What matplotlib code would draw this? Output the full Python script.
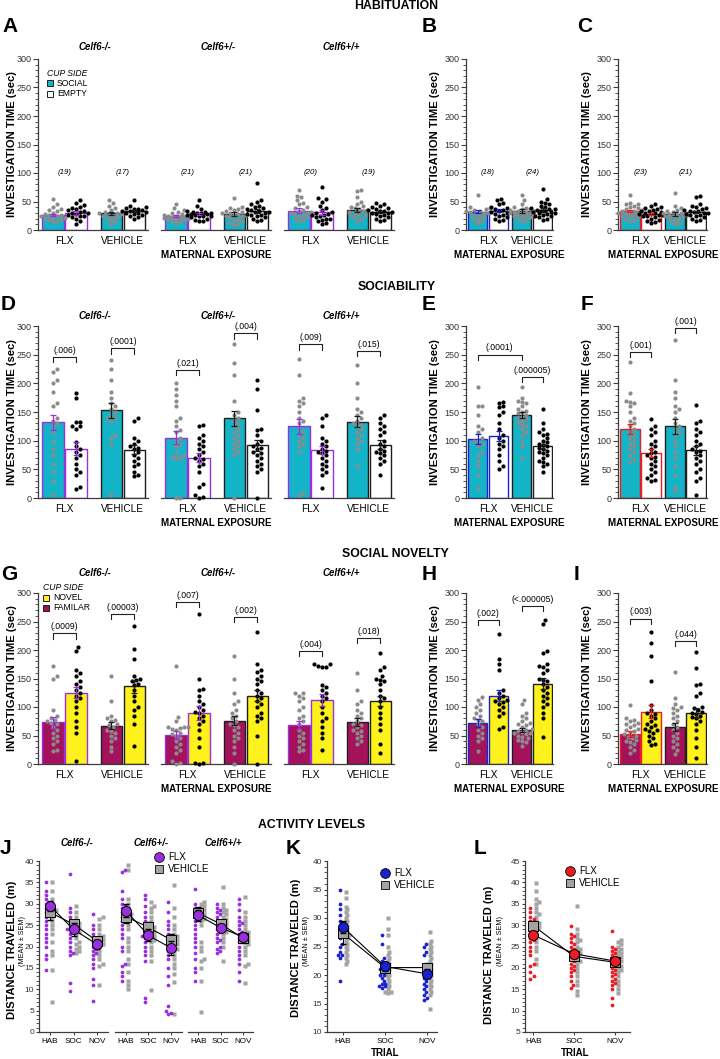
import numpy as np
import matplotlib
matplotlib.use("Agg")
import matplotlib.pyplot as plt
from matplotlib.patches import Rectangle
from matplotlib.ticker import MultipleLocator

plt.rcParams['font.family'] = ['Liberation Sans', 'DejaVu Sans']

W, H = 720, 1059

GENOTYPES = ['Celf6-/-', 'Celf6+/-', 'Celf6+/+']
EXPOSURE = ['FLX', 'VEHICLE']
TRIALS = ['HAB', 'SOC', 'NOV']

# ---------------- habituation (sec) ----------------
# order: -/- FLX, -/- VEH, +/- FLX, +/- VEH, +/+ FLX, +/+ VEH
A_N = [19, 17, 21, 21, 20, 19]
A_SOCIAL_MEAN = [26, 29, 25, 28, 34, 35]
A_SOCIAL_SEM = [2, 3, 2, 3, 4, 4]
A_EMPTY_MEAN = [30, 33, 28, 33, 31, 32]
A_EMPTY_SEM = [3, 2, 2, 3, 4, 2]
A_SOCIAL = [
    [55, 45, 40, 37, 35, 33, 30, 28, 27, 26, 25, 24, 22, 21, 20, 20, 18, 16, 14],
    [52, 48, 42, 38, 35, 32, 30, 29, 28, 27, 25, 24, 22, 20, 18, 15, 10],
    [45, 38, 35, 32, 30, 28, 27, 26, 25, 24, 23, 22, 22, 21, 20, 20, 19, 18, 16, 15, 12],
    [56, 40, 38, 36, 35, 33, 32, 30, 29, 28, 27, 26, 25, 24, 22, 20, 18, 15, 12, 10, 8],
    [70, 60, 58, 52, 48, 45, 40, 38, 35, 33, 32, 30, 30, 28, 26, 25, 22, 20, 18, 15],
    [70, 68, 58, 50, 45, 42, 40, 38, 36, 35, 33, 32, 30, 28, 26, 25, 22, 20, 15],
]
A_EMPTY = [
    [53, 47, 43, 40, 38, 36, 35, 33, 32, 30, 30, 28, 26, 25, 24, 22, 20, 15, 10],
    [53, 42, 40, 38, 37, 36, 35, 34, 33, 32, 30, 30, 28, 27, 25, 22, 20],
    [52, 42, 36, 34, 32, 31, 30, 30, 29, 28, 28, 27, 26, 25, 25, 24, 22, 20, 18, 16, 15],
    [83, 52, 50, 45, 42, 40, 38, 36, 35, 34, 32, 31, 30, 28, 27, 26, 25, 22, 20, 18, 15],
    [75, 56, 55, 50, 42, 38, 35, 32, 30, 28, 27, 26, 25, 22, 20, 20, 18, 15, 12, 10],
    [48, 45, 42, 40, 38, 36, 35, 34, 33, 32, 30, 30, 28, 26, 25, 22, 20, 18, 15],
]
B_N = [18, 24]
B_SOCIAL_MEAN = [32, 33]
B_SOCIAL_SEM = [3, 3]
B_EMPTY_MEAN = [34, 35]
B_EMPTY_SEM = [3, 3]
B_SOCIAL = [
    [62, 40, 38, 36, 35, 34, 33, 32, 30, 30, 28, 27, 25, 22, 20, 18, 15, 12],
    [62, 52, 45, 40, 38, 37, 36, 35, 34, 33, 32, 32, 30, 30, 29, 28, 27, 26, 25, 24, 22, 20, 18, 15],
]
B_EMPTY = [
    [55, 52, 48, 45, 40, 38, 36, 35, 33, 32, 30, 28, 26, 25, 22, 20, 18, 15],
    [72, 55, 50, 48, 45, 42, 40, 38, 37, 36, 35, 34, 33, 32, 32, 30, 30, 28, 27, 25, 24, 22, 20, 18],
]
C_N = [23, 21]
C_SOCIAL_MEAN = [33, 28]
C_SOCIAL_SEM = [2, 3]
C_EMPTY_MEAN = [28, 32]
C_EMPTY_SEM = [2, 2]
C_SOCIAL = [
    [62, 48, 46, 45, 42, 40, 38, 36, 35, 34, 33, 32, 30, 30, 28, 27, 26, 25, 24, 22, 20, 18, 15],
    [65, 42, 38, 35, 33, 32, 30, 30, 29, 28, 27, 26, 25, 25, 24, 22, 20, 18, 15, 12, 10],
]
C_EMPTY = [
    [45, 42, 40, 38, 36, 35, 34, 33, 32, 30, 30, 28, 28, 27, 26, 25, 24, 22, 20, 18, 16, 14, 12],
    [60, 58, 45, 42, 40, 38, 36, 35, 34, 33, 32, 30, 30, 28, 27, 26, 25, 22, 20, 18, 15],
]

# ---------------- sociability (sec) ----------------
D_SOCIAL_MEAN = [132, 153, 105, 139, 125, 133]
D_SOCIAL_SEM = [13, 13, 11, 13, 13, 10]
D_EMPTY_MEAN = [86, 84, 70, 92, 83, 93]
D_EMPTY_SEM = [11, 8, 8, 10, 7, 8]
D_P = ['(.006)', '(.0001)', '(.021)', '(.004)', '(.009)', '(.015)']
D_P_Y = [246, 261, 223, 287, 268, 256]
D_SOCIAL = [
    [225, 220, 205, 200, 185, 165, 160, 140, 135, 130, 125, 115, 100, 85, 75, 60, 45, 30, 5],
    [240, 225, 205, 185, 175, 165, 160, 155, 150, 145, 140, 140, 135, 110, 105, 95, 5],
    [200, 190, 180, 170, 160, 140, 135, 125, 118, 115, 105, 100, 95, 90, 80, 75, 72, 70, 70, 0, 0],
    [268, 235, 215, 170, 150, 145, 140, 135, 130, 125, 120, 115, 110, 105, 100, 95, 90, 85, 80, 75, 0],
    [242, 215, 175, 170, 165, 160, 150, 140, 135, 130, 120, 115, 110, 105, 100, 95, 90, 80, 5, 8],
    [232, 200, 175, 155, 150, 145, 140, 135, 130, 128, 125, 120, 115, 110, 105, 100, 95, 85, 55],
]
D_EMPTY = [
    [183, 175, 132, 132, 125, 125, 120, 98, 90, 85, 80, 75, 70, 60, 50, 45, 40, 20, 15],
    [140, 135, 105, 100, 95, 90, 88, 85, 80, 75, 70, 65, 60, 55, 45, 40, 38],
    [128, 125, 110, 105, 100, 95, 90, 85, 80, 75, 70, 68, 65, 60, 55, 45, 25, 20, 5, 2, 0],
    [205, 190, 153, 120, 118, 110, 100, 95, 90, 88, 85, 80, 78, 75, 70, 65, 60, 55, 50, 45, 0],
    [145, 140, 125, 105, 100, 95, 90, 85, 82, 80, 78, 75, 70, 65, 60, 55, 50, 45, 40, 18],
    [145, 140, 130, 125, 120, 115, 110, 100, 95, 90, 85, 82, 80, 78, 75, 70, 65, 60, 40],
]
E_SOCIAL_MEAN = [103, 145]
E_SOCIAL_SEM = [9, 5]
E_EMPTY_MEAN = [108, 90]
E_EMPTY_SEM = [8, 5]
E_P = ['(.0001)', '(.000005)']
E_P_Y = [250, 211]
E_P_BARS = [(0, 2), (2, 3)]
E_SOCIAL = [
    [193, 160, 160, 145, 125, 120, 115, 105, 100, 100, 95, 90, 80, 75, 65, 55, 40, 17],
    [193, 175, 170, 168, 165, 160, 155, 152, 150, 148, 145, 142, 140, 138, 135, 130, 128, 125, 120, 115, 110, 100, 90, 70],
]
E_EMPTY = [
    [168, 165, 160, 158, 150, 145, 130, 120, 110, 105, 100, 95, 90, 85, 75, 65, 55, 50],
    [155, 130, 120, 115, 112, 110, 105, 100, 98, 95, 92, 90, 88, 85, 82, 80, 78, 75, 70, 65, 62, 60, 55, 45],
]
F_SOCIAL_MEAN = [120, 125]
F_SOCIAL_SEM = [9, 13]
F_EMPTY_MEAN = [79, 83]
F_EMPTY_SEM = [7, 8]
F_P = ['(.001)', '(.001)']
F_P_Y = [255, 296]
F_P_BARS = [(0, 1), (2, 3)]
F_SOCIAL = [
    [237, 183, 170, 168, 165, 160, 150, 140, 135, 130, 125, 120, 115, 110, 105, 100, 95, 90, 85, 80, 75, 68, 62],
    [275, 205, 185, 175, 160, 155, 150, 140, 130, 125, 120, 115, 110, 100, 90, 80, 70, 55, 40, 20, 12],
]
F_EMPTY = [
    [138, 125, 120, 115, 110, 100, 95, 90, 85, 80, 78, 75, 72, 70, 65, 60, 55, 50, 45, 40, 35, 32, 30],
    [163, 135, 130, 120, 115, 110, 100, 95, 90, 85, 82, 80, 75, 70, 65, 60, 50, 45, 35, 30, 5],
]

# ---------------- social novelty (sec) ----------------
G_FAM_MEAN = [73, 67, 51, 76, 68, 73]
G_FAM_SEM = [9, 6, 7, 8, 7, 7]
G_NOVEL_MEAN = [125, 136, 90, 120, 112, 110]
G_NOVEL_SEM = [10, 11, 12, 10, 10, 9]
G_P = ['(.0009)', '(.00003)', '(.007)', '(.002)', '(.004)', '(.018)']
G_P_Y = [229, 263, 284, 258, 198, 221]
G_FAM = [
    [172, 155, 150, 95, 85, 80, 78, 75, 72, 70, 65, 60, 55, 50, 45, 40, 35, 25, 22],
    [155, 110, 85, 80, 78, 75, 70, 68, 65, 60, 58, 55, 50, 45, 40, 30, 22],
    [172, 82, 75, 65, 65, 65, 63, 62, 60, 55, 52, 50, 45, 40, 35, 30, 25, 20, 5, 2, 0],
    [190, 150, 125, 110, 105, 95, 90, 85, 80, 75, 70, 68, 65, 60, 55, 50, 45, 40, 30, 20, 0],
    [125, 125, 120, 115, 110, 100, 95, 85, 80, 75, 70, 60, 55, 50, 45, 40, 35, 30, 25, 22],
    [160, 130, 110, 105, 95, 90, 85, 80, 75, 70, 68, 65, 60, 58, 55, 50, 45, 40, 35],
]
G_NOVEL = [
    [205, 198, 165, 160, 155, 145, 140, 135, 130, 125, 120, 115, 110, 100, 90, 75, 65, 55, 5],
    [242, 202, 185, 155, 150, 148, 145, 140, 138, 130, 120, 110, 100, 95, 85, 70, 32],
    [263, 150, 132, 130, 120, 110, 105, 100, 95, 92, 90, 85, 80, 75, 70, 60, 45, 30, 2, 1, 0],
    [232, 175, 165, 162, 155, 150, 145, 140, 130, 125, 120, 115, 110, 105, 100, 90, 85, 80, 75, 50, 0],
    [175, 175, 172, 170, 170, 138, 135, 130, 125, 120, 115, 110, 100, 90, 80, 75, 65, 55, 45, 25],
    [195, 170, 165, 155, 150, 148, 145, 140, 130, 120, 115, 110, 100, 90, 80, 70, 60, 35, 20],
]
H_FAM_MEAN = [72, 60]
H_FAM_SEM = [7, 4]
H_NOVEL_MEAN = [120, 141]
H_NOVEL_SEM = [10, 10]
H_P = ['(.002)', '(<.000005)']
H_P_Y = [252, 277]
H_FAM = [
    [118, 112, 105, 100, 95, 90, 85, 80, 78, 75, 70, 65, 60, 55, 50, 45, 40, 22],
    [112, 105, 90, 85, 80, 75, 72, 70, 68, 65, 62, 60, 58, 57, 55, 55, 52, 50, 48, 45, 42, 40, 38, 32],
]
H_NOVEL = [
    [228, 185, 175, 165, 130, 125, 120, 115, 112, 110, 108, 105, 100, 95, 90, 85, 65, 62],
    [252, 245, 198, 195, 175, 172, 170, 165, 160, 150, 148, 145, 140, 135, 130, 125, 120, 115, 110, 105, 100, 90, 80, 48],
]
I_FAM_MEAN = [53, 65]
I_FAM_SEM = [5, 7]
I_NOVEL_MEAN = [92, 89]
I_NOVEL_SEM = [12, 9]
I_P = ['(.003)', '(.044)']
I_P_Y = [255, 216]
I_FAM = [
    [103, 80, 78, 75, 72, 70, 68, 65, 62, 60, 58, 55, 52, 50, 48, 45, 42, 40, 38, 35, 30, 25, 20],
    [162, 115, 105, 100, 98, 95, 90, 85, 80, 75, 70, 65, 60, 55, 50, 45, 40, 35, 30, 25, 18],
]
I_NOVEL = [
    [232, 212, 190, 145, 103, 95, 90, 88, 85, 80, 75, 70, 68, 65, 62, 60, 58, 55, 50, 45, 40, 35, 33],
    [197, 168, 140, 138, 125, 120, 100, 98, 95, 92, 90, 88, 85, 82, 80, 75, 70, 60, 45, 30, 10],
]

# ---------------- activity levels (m) ----------------
J_FLX_MEAN = [[29.5, 24.0, 20.5], [28.4, 22.6, 19.6], [27.3, 24.4, 22.3]]
J_VEH_MEAN = [[28.0, 25.2, 21.3], [27.0, 24.5, 21.5], [27.8, 25.3, 22.0]]
J_FLX_SEM = [[1.2, 1.5, 1.1], [1.5, 1.4, 1.6], [1.3, 0.8, 1.1]]
J_VEH_SEM = [[1.7, 0.9, 1.0], [1.6, 1.2, 1.4], [1.4, 0.9, 1.1]]
J_FLX = [
    [[35, 33, 32, 31, 30, 30, 29, 28, 27, 26, 25, 24, 23, 22, 21, 20, 18, 17, 14.5],
     [37, 29, 28, 27, 26, 25, 24.5, 24, 24, 23.5, 23, 22, 21, 20, 19, 18.5, 18, 11.5, 9.5],
     [27.5, 25, 24, 23, 22, 21.5, 21, 20.5, 20, 19.5, 19, 18.5, 18, 17, 16, 15, 12.5, 11, 7.3]],
    [[38, 37.5, 33, 31, 30, 29.5, 29, 28, 27, 26, 25, 24, 23, 22, 20, 19, 16, 15.5, 14, 13, 12],
     [32, 31, 29.5, 28, 27, 26, 25, 24.5, 24, 23, 23, 22.5, 22, 22, 21, 20, 19, 18, 16.5, 8, 7],
     [30.3, 28, 26, 25, 24, 23, 22, 21, 20.5, 20, 19.5, 19, 18, 17, 15, 13, 11, 6, 5, 4.5, 4.3]],
    [[33.5, 30, 29, 28.5, 28, 27.5, 27, 26.5, 26, 25, 24, 23, 22, 21, 20, 18.5, 17, 15, 14, 12],
     [30, 29, 28.5, 28, 27.5, 27, 26, 25.5, 25, 24.5, 24, 23.5, 23, 22, 21.5, 21, 20, 19.5, 19, 18.5],
     [31, 30, 28.5, 27, 26, 25.5, 25, 24, 23.5, 23, 22, 21.5, 21, 20, 19, 18, 17, 16, 14, 12]],
]
J_VEH = [
    [[35, 33, 31, 30, 29, 28.5, 28, 27, 26, 25, 24, 23, 21, 19, 18, 14.5, 7],
     [29.5, 28, 27, 26, 25.5, 25, 24.5, 24, 23.5, 23, 22, 21, 20.5, 20, 19.5, 19, 18.5],
     [27, 26.5, 25, 24, 23, 22.5, 22, 21.5, 21, 20.5, 20, 19, 18, 17, 16, 15.5, 11]],
    [[39, 38, 31, 30, 29, 28, 27.5, 27, 26, 25, 24, 22, 21, 20, 19, 17, 16, 14, 12, 11, 10],
     [30.5, 29.5, 29, 28, 27, 26, 25, 25, 24.5, 24, 23.5, 23, 22.5, 22, 21.5, 21, 20, 19, 18, 16.5, 9.8],
     [34.5, 29, 27, 25, 24, 23, 22.5, 22, 21.5, 21, 20.5, 20, 19.5, 19, 18, 17, 16, 15, 13.5, 11.7, 4.3]],
    [[30.5, 30, 29.5, 29, 28.5, 28, 27.5, 27, 26.5, 26, 25, 21, 20, 19, 17, 16.5, 15, 12, 4.7],
     [34, 30, 29, 28.5, 28, 27.5, 27, 26.5, 26, 25.5, 25, 24.5, 24, 23.5, 23, 22, 21, 20, 16.5],
     [31.5, 28, 27, 26, 25, 24, 23.5, 23, 22.5, 22, 21.5, 21, 20.5, 20, 19, 18, 16, 15.5, 11.5]],
]
K_FLX_MEAN = [28.4, 21.5, 20.2]
K_VEH_MEAN = [27.3, 21.3, 21.3]
K_FLX_SEM = [1.0, 0.8, 0.8]
K_VEH_SEM = [1.8, 0.7, 0.7]
K_FLX = [
    [35, 32.5, 31.5, 30.5, 29.5, 29, 28.5, 28, 27.5, 27, 26.5, 25.5, 25, 24, 23.5, 23.5, 23, 19],
    [27, 25.5, 23, 22.5, 22, 21.5, 21, 21, 20.5, 20, 20, 19.5, 19, 18.5, 18.5, 18, 18, 17.8],
    [25.5, 25, 24, 23.5, 22, 21.5, 21, 20.5, 20, 19.5, 19, 18.5, 18, 17.5, 17, 16.5, 16, 15.6],
]
K_VEH = [
    [34.5, 33.5, 32, 31.5, 31, 30.5, 30, 29.5, 29, 28.5, 28, 27.5, 27, 27, 26.5, 26, 25.5, 25, 24.5, 24, 23.5, 23, 22.5, 22],
    [30, 28, 27, 25, 24, 23.5, 23, 22.5, 22, 22, 21.5, 21, 21, 20.5, 20, 20, 19.5, 19, 18.5, 18, 17.5, 17, 17, 16.8],
    [27.5, 26, 25.5, 25, 24.5, 24, 23.5, 23, 22.5, 22, 22, 21.5, 21, 21, 20.5, 20, 19.5, 19, 18.5, 18, 17.5, 17, 16.5, 14],
]
L_FLX_MEAN = [27.7, 23.3, 21.6]
L_VEH_MEAN = [29.9, 22.7, 21.3]
L_FLX_SEM = [1.0, 0.9, 0.8]
L_VEH_SEM = [1.1, 1.0, 0.8]
L_FLX = [
    [34, 33, 32, 31.5, 31, 30.5, 30, 29.5, 29, 28.5, 28, 27.5, 27, 26.5, 26, 25, 24, 23, 21, 20.5, 19, 18, 17.5],
    [29.8, 28, 27.5, 27, 26, 25.5, 25, 24.5, 24, 23.5, 23, 22.5, 22, 21.5, 21, 20.5, 20, 19.5, 19, 18, 17, 16, 15.3],
    [28.7, 25, 24.5, 24, 23.5, 23, 22.5, 22, 21.5, 21, 20.5, 20, 19.5, 19, 18.5, 18, 17.5, 17, 16.5, 16, 15, 13, 11.2],
]
L_VEH = [
    [39.8, 38, 36, 35.5, 35, 34, 33, 32.5, 32, 31, 30.5, 30, 29.5, 29, 28, 27, 26, 25, 24, 22, 20.8],
    [34.5, 29, 28, 27, 26.5, 26, 25, 24.5, 24, 23.5, 23, 22, 21.5, 21, 20, 19, 18, 17, 16, 14.5, 13.7],
    [26.5, 26, 25.5, 25, 24.5, 24, 23.5, 23, 22.5, 22, 21.5, 21, 20.5, 20, 19.5, 19, 18, 17, 16, 15, 14.2],
]

# ---------------- styles ----------------
TEAL = '#13b4c8'
MAROON = '#a5125c'
YELLOW = '#fff21c'
PURPLE = '#9a2fde'
BLUE = '#1a22cf'
RED = '#ec1c24'
PT_GREY = '#8b8b8b'
SQ_GREY = '#a3a3a3'
DARK = '#1e1e1e'
AX_COL = '#3c3c3c'

fig = plt.figure(figsize=(7.2, 10.59), dpi=100)


def px_box(x0, y0, x1, y1):
    return [x0 / W, 1 - y1 / H, (x1 - x0) / W, (y1 - y0) / H]


def ftext(x, y, s, **kw):
    kw.setdefault('ha', 'center')
    kw.setdefault('va', 'center')
    fig.text(x / W, 1 - y / H, s, **kw)


def swarm(ax, x0, vals, d=4.0, half=12.0):
    vals = np.asarray(vals, float)
    disp = ax.transData.transform(np.column_stack([np.full(len(vals), x0), vals]))
    cx, ys = disp[0, 0], disp[:, 1]
    steps = [0.0]
    k = 1
    while k * d / 2 <= half:
        steps += [k * d / 2, -k * d / 2]
        k += 1
    px, py = [], []
    out = np.zeros(len(vals))
    for i in np.argsort(vals):
        best, best_gap = 0.0, -1.0
        for off in steps:
            gap = np.min(np.hypot(np.array(px) - (cx + off), np.array(py) - ys[i])) if px else np.inf
            if gap >= d:
                best = off
                break
            if gap > best_gap:
                best, best_gap = off, gap
        px.append(cx + best)
        py.append(ys[i])
        out[i] = cx + best
    return ax.transData.inverted().transform(np.column_stack([out, ys]))[:, 0]


def style_axis(ax, ylim, major, minor, show_y=True, labsize=6.5, tlen=3.5):
    ax.set_ylim(*ylim)
    ax.patch.set_visible(False)
    for s in ('top', 'right'):
        ax.spines[s].set_visible(False)
    ax.spines['bottom'].set_color(AX_COL)
    ax.spines['bottom'].set_linewidth(0.9)
    if show_y:
        ax.spines['left'].set_color(AX_COL)
        ax.spines['left'].set_linewidth(0.9)
        ax.yaxis.set_major_locator(MultipleLocator(major))
        ax.yaxis.set_minor_locator(MultipleLocator(minor))
        ax.tick_params(axis='y', which='major', length=tlen, width=0.8, color=AX_COL,
                       labelsize=labsize, pad=1, labelcolor='#333333')
        ax.tick_params(axis='y', which='minor', length=2, width=0.6, color=AX_COL)
    else:
        ax.spines['left'].set_visible(False)
        ax.tick_params(axis='y', which='both', left=False, labelleft=False)


def bar_pairs(ax, pos, pts_l, pts_r, mean_l, mean_r, sem_l, sem_r, fill_l, fill_r, flx_edge):
    for g in range(2):
        edge = flx_edge if g == 0 else DARK
        sides = [(pts_l[g], mean_l[g], sem_l[g], fill_l, PT_GREY),
                 (pts_r[g], mean_r[g], sem_r[g], fill_r, 'black')]
        for s, (pts, m, e, fc, pc) in enumerate(sides):
            x = pos[2 * g + s]
            ax.bar(x, m, width=0.93, color=fc, edgecolor=edge, linewidth=1.0, zorder=2)
            xs = swarm(ax, x, pts)
            ax.scatter(xs, pts, s=9, color=pc, linewidths=0, zorder=3, clip_on=False)
            ax.errorbar(x, m, yerr=e, fmt='none', ecolor=edge, elinewidth=0.9,
                        capsize=2.2, capthick=0.9, zorder=4)
    ax.set_xticks([(pos[0] + pos[1]) / 2, (pos[2] + pos[3]) / 2])
    ax.set_xticklabels(EXPOSURE, fontsize=7.2)
    ax.tick_params(axis='x', length=0, pad=4)


def bracket(ax, x1, x2, y, text, drop=9):
    ax.plot([x1, x1, x2, x2], [y - drop, y, y, y - drop], color='#222222', lw=0.8,
            clip_on=False, zorder=5)
    ax.text((x1 + x2) / 2, y + 4, text, ha='center', va='bottom', fontsize=6.2)


POS3 = [0, 1, 2.54, 3.54]
POS1 = [0, 1, 2.1, 3.1]
SUB_X = [(38, 148), (161, 271), (284, 394)]
ROWS = {'A': (59, 230), 'D': (326, 498), 'G': (593, 764), 'J': (861, 1032)}
TITLE_Y = {'A': 47, 'D': 316, 'G': 573}
SINGLE_X = [(466, 553), (618, 707)]
SINGLE_XLAB = [509, 663]
YLAB = 'INVESTIGATION TIME (sec)'


def triple_row(row_key, pts_l, pts_r, mean_l, mean_r, sem_l, sem_r, fill_l, fill_r,
               p=None, p_y=None, n=None):
    y0, y1 = ROWS[row_key]
    for j, (x0, x1) in enumerate(SUB_X):
        ax = fig.add_axes(px_box(x0, y0, x1, y1))
        ax.set_xlim(-0.65, 4.13)
        style_axis(ax, (0, 300), 50, 10, show_y=(j == 0))
        sl = slice(2 * j, 2 * j + 2)
        bar_pairs(ax, POS3, pts_l[sl], pts_r[sl], mean_l[sl], mean_r[sl], sem_l[sl], sem_r[sl],
                  fill_l, fill_r, PURPLE)
        for g in range(2):
            k = 2 * j + g
            if p is not None:
                bracket(ax, POS3[2 * g], POS3[2 * g + 1], p_y[k], p[k])
            if n is not None:
                ax.text((POS3[2 * g] + POS3[2 * g + 1]) / 2, 100, '(%d)' % n[k], ha='center',
                        va='center', fontsize=5.7, style='italic')
        ftext((x0 + x1) / 2 + 2, TITLE_Y[row_key], GENOTYPES[j], fontsize=6.9, fontweight='bold',
              style='italic')
        if j == 1:
            ftext((x0 + x1) / 2, y1 + 25, 'MATERNAL EXPOSURE', fontsize=7, fontweight='bold')
    ftext(12, (y0 + y1) / 2, YLAB, rotation=90, fontsize=8.1, fontweight='bold')


def single_panel(col, row_key, pts_l, pts_r, mean_l, mean_r, sem_l, sem_r, fill_l, fill_r,
                 edge, p=None, p_y=None, p_bars=None, n=None):
    y0, y1 = ROWS[row_key]
    x0, x1 = SINGLE_X[col]
    ax = fig.add_axes(px_box(x0, y0, x1, y1))
    ax.set_xlim(-0.55, 3.59)
    style_axis(ax, (0, 300), 50, 10)
    bar_pairs(ax, POS1, pts_l, pts_r, mean_l, mean_r, sem_l, sem_r, fill_l, fill_r, edge)
    if p is not None:
        for (a, b), txt, yy in zip(p_bars, p, p_y):
            bracket(ax, POS1[a], POS1[b], yy, txt)
    if n is not None:
        for g in range(2):
            ax.text((POS1[2 * g] + POS1[2 * g + 1]) / 2, 100, '(%d)' % n[g], ha='center',
                    va='center', fontsize=5.7, style='italic')
    ftext(SINGLE_XLAB[col], y1 + 25, 'MATERNAL EXPOSURE', fontsize=7, fontweight='bold')
    ftext(x0 - 31, (y0 + y1) / 2, YLAB, rotation=90, fontsize=8.1, fontweight='bold')


def legend_box(x, y, color, label):
    fig.patches.append(Rectangle((x / W, 1 - (y + 3) / H), 6 / W, 6 / H, transform=fig.transFigure,
                                 facecolor=color, edgecolor=DARK, linewidth=0.7))
    ftext(x + 10, y, label, ha='left', fontsize=6.2)


# ---- habituation ----
triple_row('A', A_SOCIAL, A_EMPTY, A_SOCIAL_MEAN, A_EMPTY_MEAN, A_SOCIAL_SEM, A_EMPTY_SEM,
           TEAL, 'white', n=A_N)
single_panel(0, 'A', B_SOCIAL, B_EMPTY, B_SOCIAL_MEAN, B_EMPTY_MEAN, B_SOCIAL_SEM, B_EMPTY_SEM,
             TEAL, 'white', BLUE, n=B_N)
single_panel(1, 'A', C_SOCIAL, C_EMPTY, C_SOCIAL_MEAN, C_EMPTY_MEAN, C_SOCIAL_SEM, C_EMPTY_SEM,
             TEAL, 'white', RED, n=C_N)
ftext(47, 73, 'CUP SIDE', ha='left', fontsize=6.2, style='italic')
legend_box(47, 83, TEAL, 'SOCIAL')
legend_box(47, 94, 'white', 'EMPTY')

# ---- sociability ----
triple_row('D', D_SOCIAL, D_EMPTY, D_SOCIAL_MEAN, D_EMPTY_MEAN, D_SOCIAL_SEM, D_EMPTY_SEM,
           TEAL, 'white', p=D_P, p_y=D_P_Y)
single_panel(0, 'D', E_SOCIAL, E_EMPTY, E_SOCIAL_MEAN, E_EMPTY_MEAN, E_SOCIAL_SEM, E_EMPTY_SEM,
             TEAL, 'white', BLUE, p=E_P, p_y=E_P_Y, p_bars=E_P_BARS)
single_panel(1, 'D', F_SOCIAL, F_EMPTY, F_SOCIAL_MEAN, F_EMPTY_MEAN, F_SOCIAL_SEM, F_EMPTY_SEM,
             TEAL, 'white', RED, p=F_P, p_y=F_P_Y, p_bars=F_P_BARS)

# ---- social novelty ----
triple_row('G', G_FAM, G_NOVEL, G_FAM_MEAN, G_NOVEL_MEAN, G_FAM_SEM, G_NOVEL_SEM,
           MAROON, YELLOW, p=G_P, p_y=G_P_Y)
single_panel(0, 'G', H_FAM, H_NOVEL, H_FAM_MEAN, H_NOVEL_MEAN, H_FAM_SEM, H_NOVEL_SEM,
             MAROON, YELLOW, BLUE, p=H_P, p_y=H_P_Y, p_bars=[(0, 1), (2, 3)])
single_panel(1, 'G', I_FAM, I_NOVEL, I_FAM_MEAN, I_NOVEL_MEAN, I_FAM_SEM, I_NOVEL_SEM,
             MAROON, YELLOW, RED, p=I_P, p_y=I_P_Y, p_bars=[(0, 1), (2, 3)])
ftext(43, 588, 'CUP SIDE', ha='left', fontsize=6.2, style='italic')
legend_box(43, 598, YELLOW, 'NOVEL')
legend_box(43, 608, MAROON, 'FAMILAR')


# ---- activity levels ----
def line_panel(ax, flx_pts, veh_pts, flx_mean, veh_mean, flx_sem, veh_sem, flx_col, off_f, off_v):
    x = np.arange(3)
    for t in range(3):
        xv = swarm(ax, t + off_v, veh_pts[t], d=3.2, half=3.5)
        ax.plot(xv, veh_pts[t], 's', ms=2.8, color=SQ_GREY, mec='none', zorder=2, clip_on=False)
        xf = swarm(ax, t + off_f, flx_pts[t], d=3.2, half=3.5)
        ax.plot(xf, flx_pts[t], 'o', ms=2.7, color=flx_col, mec='none', zorder=2, clip_on=False)
    ax.errorbar(x, veh_mean, yerr=veh_sem, fmt='-', color='black', lw=0.8, capsize=2, zorder=3)
    ax.plot(x, veh_mean, 's', ms=6.8, mfc=SQ_GREY, mec='black', mew=0.7, zorder=4)
    ax.errorbar(x, flx_mean, yerr=flx_sem, fmt='-', color='black', lw=0.8, capsize=2, zorder=5)
    ax.plot(x, flx_mean, 'o', ms=7.2, mfc=flx_col, mec='black', mew=0.7, zorder=6)
    ax.set_xticks(x)
    ax.set_xticklabels(TRIALS, fontsize=5.9)
    ax.tick_params(axis='x', length=2.5, width=0.7, color=AX_COL, pad=2)


J_SUB_X = [(39, 108), (115, 182), (188, 253)]
y0, y1 = ROWS['J']
for j, (x0, x1) in enumerate(J_SUB_X):
    ax = fig.add_axes(px_box(x0, y0, x1, y1))
    ax.set_xlim(-0.47, 2.47)
    style_axis(ax, (0, 40), 5, 1, show_y=(j == 0), labsize=6, tlen=2.5)
    line_panel(ax, J_FLX[j], J_VEH[j], J_FLX_MEAN[j], J_VEH_MEAN[j], J_FLX_SEM[j], J_VEH_SEM[j],
               PURPLE, -0.16, 0.1)
    ftext((x0 + x1) / 2 + 3, 843, GENOTYPES[j], fontsize=6.9, fontweight='bold', style='italic')

ax = fig.add_axes(px_box(327, y0, 437, y1))
ax.set_xlim(-0.38, 2.24)
style_axis(ax, (10, 40), 5, 1, labsize=6, tlen=2.5)
line_panel(ax, K_FLX, K_VEH, K_FLX_MEAN, K_VEH_MEAN, K_FLX_SEM, K_VEH_SEM, BLUE, -0.07, 0.07)
ftext(385, 1053, 'TRIAL', fontsize=7, fontweight='bold')

ax = fig.add_axes(px_box(525, y0, 630, y1))
ax.set_xlim(-0.2, 2.37)
style_axis(ax, (5, 45), 5, 1, labsize=6, tlen=2.5)
line_panel(ax, L_FLX, L_VEH, L_FLX_MEAN, L_VEH_MEAN, L_FLX_SEM, L_VEH_SEM, RED, -0.07, 0.07)
ftext(575, 1053, 'TRIAL', fontsize=7, fontweight='bold')

for lx, ly, sx, sy in [(12, 950, 23, 941), (296, 948, 307, 941), (489, 955, 500, 941)]:
    ftext(lx, ly, 'DISTANCE TRAVELED (m)', rotation=90, fontsize=8, fontweight='bold')
    ftext(sx, sy, '(MEAN ± SEM)', rotation=90, fontsize=5.2)

for cx, cy, col in [(159, 857, PURPLE), (385, 873, BLUE), (570, 871, RED)]:
    fig.lines.append(plt.Line2D([cx / W], [1 - cy / H], marker='o', ms=7, mfc=col, mec='black',
                                mew=0.6, transform=fig.transFigure))
    fig.lines.append(plt.Line2D([cx / W], [1 - (cy + 12) / H], marker='s', ms=6.3, mfc=SQ_GREY,
                                mec='black', mew=0.6, transform=fig.transFigure))
    ftext(cx + 9, cy, 'FLX', ha='left', fontsize=7)
    ftext(cx + 9, cy + 12, 'VEHICLE', ha='left', fontsize=7)

# ---- section titles & panel letters ----
for tx, ty, t in [(396, 6, 'HABITUATION'), (397, 287, 'SOCIABILITY'),
                  (395, 554, 'SOCIAL NOVELTY'), (312, 825, 'ACTIVITY LEVELS')]:
    ftext(tx, ty, t, fontsize=8.8, fontweight='bold')
for lx, ly, t in [(2, 26, 'A'), (422, 26, 'B'), (577, 26, 'C'),
                  (1, 305, 'D'), (422, 305, 'E'), (581, 305, 'F'),
                  (1, 574, 'G'), (422, 574, 'H'), (574, 574, 'I'),
                  (0, 849, 'J'), (286, 849, 'K'), (474, 849, 'L')]:
    ftext(lx, ly, t, ha='left', fontsize=15, fontweight='bold')

fig.savefig('out.png', dpi=100)
